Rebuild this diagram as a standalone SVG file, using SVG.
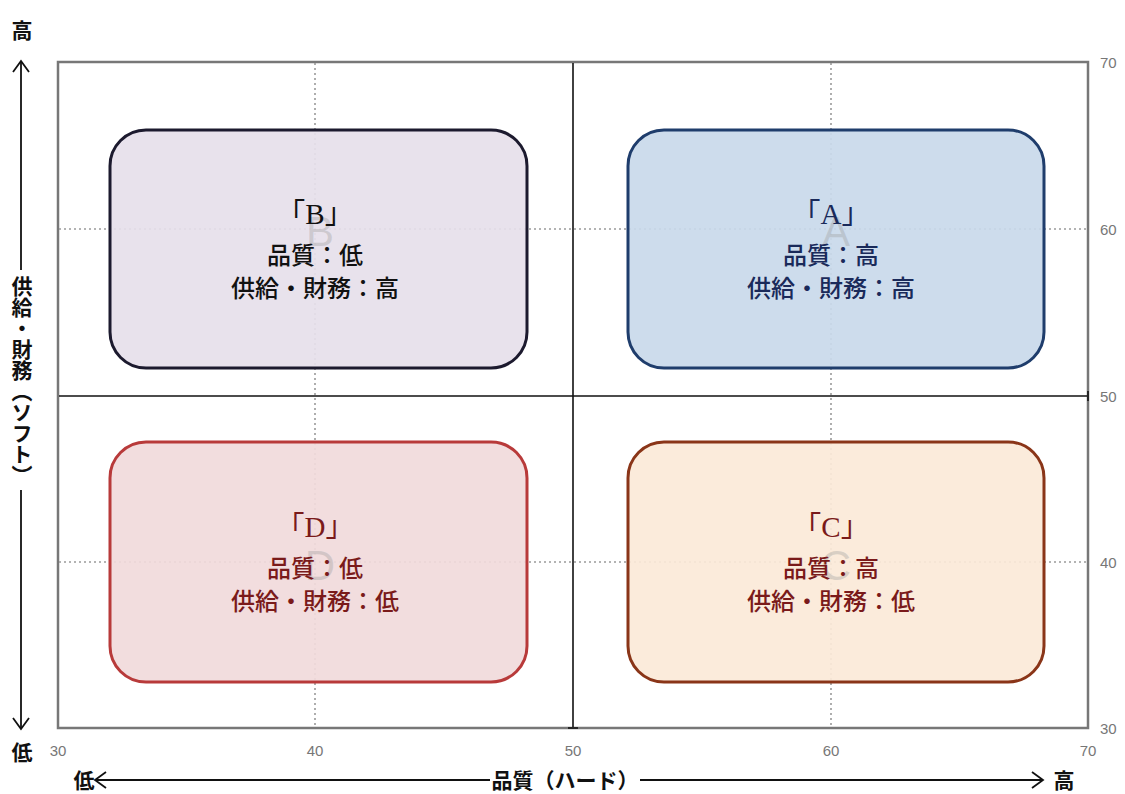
<svg xmlns="http://www.w3.org/2000/svg" width="1125" height="794" viewBox="0 0 1125 794">
<defs>
<style>
.grid{stroke:#9a9a9a;stroke-width:1.6;stroke-dasharray:2 3;fill:none}
.axis{stroke:#111;stroke-width:1.6;fill:none}
.tick{font-family:"Liberation Sans",Arial,sans-serif;font-size:15px;fill:#777}
.lbl{font-family:"Noto Sans CJK JP","Noto Sans",sans-serif;font-weight:bold;font-size:21px;fill:#111}
.box{stroke-width:3}
.title{font-family:"Liberation Serif","Noto Sans CJK JP",serif;font-size:29px;text-anchor:middle}
.line{font-family:"Noto Sans CJK JP",sans-serif;font-size:24px;font-weight:500;text-anchor:middle}
.ghost{font-family:"Liberation Sans",Arial,sans-serif;font-size:42px;fill:#9a9a9a;fill-opacity:0.35;text-anchor:middle}
.arr{stroke:#111;stroke-width:1.8;fill:none}
</style>
</defs>
<rect width="1125" height="794" fill="#fff"/>
<g id="plot">
<rect x="58" y="62" width="1030" height="666" fill="#fff" stroke="#777" stroke-width="2.5"/>
<line class="grid" x1="315" y1="63" x2="315" y2="727"/>
<line class="grid" x1="831" y1="63" x2="831" y2="727"/>
<line class="grid" x1="59" y1="229" x2="1087" y2="229"/>
<line class="grid" x1="59" y1="562" x2="1087" y2="562"/>
<line class="axis" x1="573" y1="63" x2="573" y2="727"/>
<line class="axis" x1="59" y1="396" x2="1087" y2="396"/>
<line class="axis" x1="1088" y1="391" x2="1088" y2="401"/>
<line class="axis" x1="568" y1="728" x2="578" y2="728"/>
</g>
<g id="ticks">
<text class="tick" x="1100" y="68">70</text>
<text class="tick" x="1100" y="235">60</text>
<text class="tick" x="1100" y="402">50</text>
<text class="tick" x="1100" y="568">40</text>
<text class="tick" x="1100" y="734">30</text>
<text class="tick" x="58" y="756" text-anchor="middle">30</text>
<text class="tick" x="315" y="756" text-anchor="middle">40</text>
<text class="tick" x="573" y="756" text-anchor="middle">50</text>
<text class="tick" x="831" y="756" text-anchor="middle">60</text>
<text class="tick" x="1088" y="756" text-anchor="middle">70</text>
</g>
<g id="nodeB">
<rect class="box" x="110" y="130" width="417" height="238" rx="36" fill="#e6dfea" fill-opacity="0.92" stroke="#1c1a2e"/>
<text class="ghost" x="320" y="246">B</text>
<text class="title" x="315" y="224" fill="#111">「B」</text>
<text class="line" x="315" y="264" fill="#111">品質：低</text>
<text class="line" x="315" y="297" fill="#111">供給・財務：高</text>
</g>
<g id="nodeA">
<rect class="box" x="628" y="130" width="416" height="238" rx="36" fill="#c9d9ea" fill-opacity="0.92" stroke="#1f3d6c"/>
<text class="ghost" x="836" y="246">A</text>
<text class="title" x="831" y="224" fill="#1a2a5a">「A」</text>
<text class="line" x="831" y="264" fill="#1a2a5a">品質：高</text>
<text class="line" x="831" y="297" fill="#1a2a5a">供給・財務：高</text>
</g>
<g id="nodeD">
<rect class="box" x="110" y="442" width="417" height="240" rx="36" fill="#f1dadb" fill-opacity="0.92" stroke="#b83a3a"/>
<text class="ghost" x="320" y="580">D</text>
<text class="title" x="315" y="537" fill="#7a1a1a">「D」</text>
<text class="line" x="315" y="577" fill="#7a1a1a">品質：低</text>
<text class="line" x="315" y="610" fill="#7a1a1a">供給・財務：低</text>
</g>
<g id="nodeC">
<rect class="box" x="628" y="442" width="416" height="240" rx="36" fill="#fbe9d8" fill-opacity="0.92" stroke="#8a3518"/>
<text class="ghost" x="836" y="580">C</text>
<text class="title" x="831" y="537" fill="#7a1a1a">「C」</text>
<text class="line" x="831" y="577" fill="#7a1a1a">品質：高</text>
<text class="line" x="831" y="610" fill="#7a1a1a">供給・財務：低</text>
</g>
<g id="connectors">
<line class="arr" x1="21" y1="62" x2="21" y2="270"/>
<polyline class="arr" points="13,72 21,61 29,72"/>
<line class="arr" x1="21" y1="490" x2="21" y2="728"/>
<polyline class="arr" points="13,718 21,729 29,718"/>
<line class="arr" x1="96" y1="780" x2="490" y2="780"/>
<polyline class="arr" points="106,772 95,780 106,788"/>
<line class="arr" x1="640" y1="780" x2="1042" y2="780"/>
<polyline class="arr" points="1032,772 1043,780 1032,788"/>
</g>
<g id="axislabels">
<text class="lbl" x="22" y="38" text-anchor="middle">高</text>
<text class="lbl" x="22" y="760" text-anchor="middle">低</text>
<text class="lbl" x="22" y="276" style="writing-mode:vertical-rl">供給・財務（ソフト）</text>
<text class="lbl" x="84" y="788" text-anchor="middle">低</text>
<text class="lbl" x="1064" y="788" text-anchor="middle">高</text>
<text class="lbl" x="565" y="788" text-anchor="middle" font-size="21">品質（ハード）</text>
</g>
</svg>
